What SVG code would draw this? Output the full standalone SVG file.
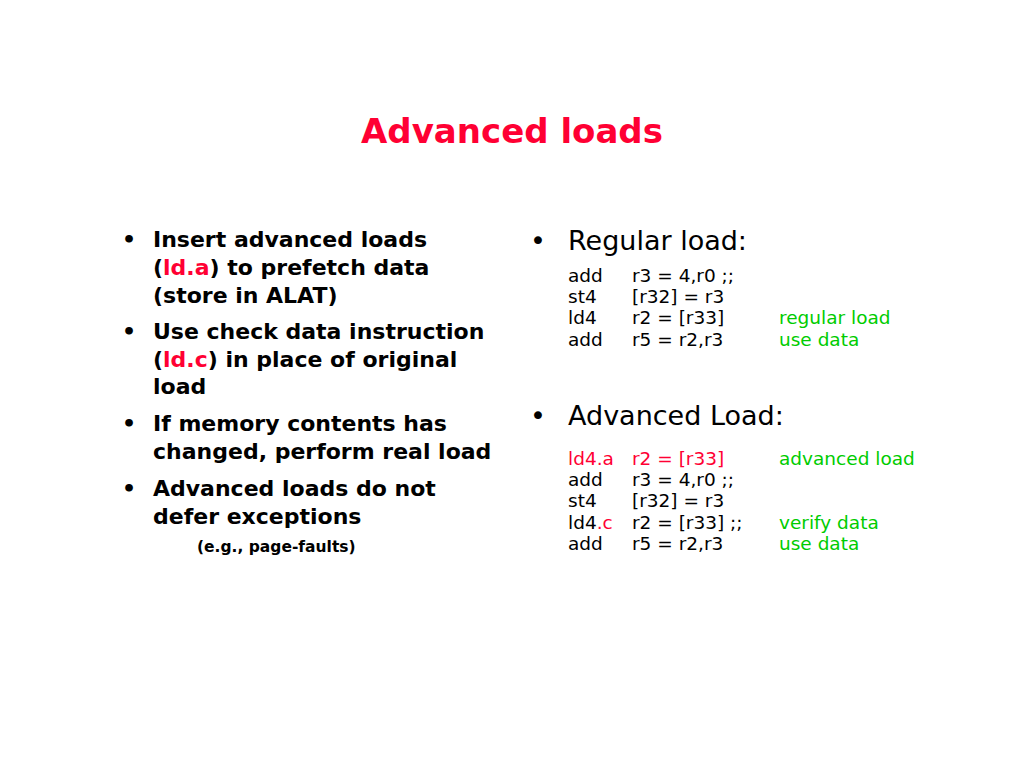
<svg xmlns="http://www.w3.org/2000/svg" width="1024" height="768" viewBox="0 0 1024 768">
<style>
text{font-family:"DejaVu Sans","Liberation Sans",sans-serif;fill:#000}
.title{font-size:34px;font-weight:bold;fill:#ff0033;text-anchor:middle}
.b{font-size:22px;font-weight:bold}
.h{font-size:27px}
.c{font-size:18.5px}
.r{fill:#ff0033}
.g{fill:#00cc00}
.s{font-size:15.5px;font-weight:bold}
</style>
<rect width="1024" height="768" fill="#fff"/>
<text class="title" x="512" y="143">Advanced loads</text>
<g id="left">
<text class="b" x="122" y="247">•</text>
<text class="b" x="153" y="247">Insert advanced loads</text>
<text class="b" x="153" y="275">(<tspan class="r">ld.a</tspan>) to prefetch data</text>
<text class="b" x="153" y="303">(store in ALAT)</text>
<text class="b" x="122" y="339">•</text>
<text class="b" x="153" y="339">Use check data instruction</text>
<text class="b" x="153" y="367">(<tspan class="r">ld.c</tspan>) in place of original</text>
<text class="b" x="153" y="394">load</text>
<text class="b" x="122" y="431">•</text>
<text class="b" x="153" y="431">If memory contents has</text>
<text class="b" x="153" y="459">changed, perform real load</text>
<text class="b" x="122" y="496">•</text>
<text class="b" x="153" y="496">Advanced loads do not</text>
<text class="b" x="153" y="524">defer exceptions</text>
<text class="s" x="197" y="552">(e.g., page-faults)</text>
</g>
<g id="right">
<text class="h" x="530" y="250">•</text>
<text class="h" x="568" y="250">Regular load:</text>
<text class="c" x="568" y="282">add</text><text class="c" x="632" y="282">r3 = 4,r0 ;;</text>
<text class="c" x="568" y="303">st4</text><text class="c" x="632" y="303">[r32] = r3</text>
<text class="c" x="568" y="324">ld4</text><text class="c" x="632" y="324">r2 = [r33]</text><text class="c g" x="779" y="324">regular load</text>
<text class="c" x="568" y="346">add</text><text class="c" x="632" y="346">r5 = r2,r3</text><text class="c g" x="779" y="346">use data</text>
<text class="h" x="530" y="425">•</text>
<text class="h" x="568" y="425">Advanced Load:</text>
<text class="c r" x="568" y="465">ld4.a</text><text class="c r" x="632" y="465">r2 = [r33]</text><text class="c g" x="779" y="465">advanced load</text>
<text class="c" x="568" y="486">add</text><text class="c" x="632" y="486">r3 = 4,r0 ;;</text>
<text class="c" x="568" y="507">st4</text><text class="c" x="632" y="507">[r32] = r3</text>
<text class="c" x="568" y="529">ld4<tspan class="r">.c</tspan></text><text class="c" x="632" y="529">r2 = [r33] ;;</text><text class="c g" x="779" y="529">verify data</text>
<text class="c" x="568" y="550">add</text><text class="c" x="632" y="550">r5 = r2,r3</text><text class="c g" x="779" y="550">use data</text>
</g>
</svg>
